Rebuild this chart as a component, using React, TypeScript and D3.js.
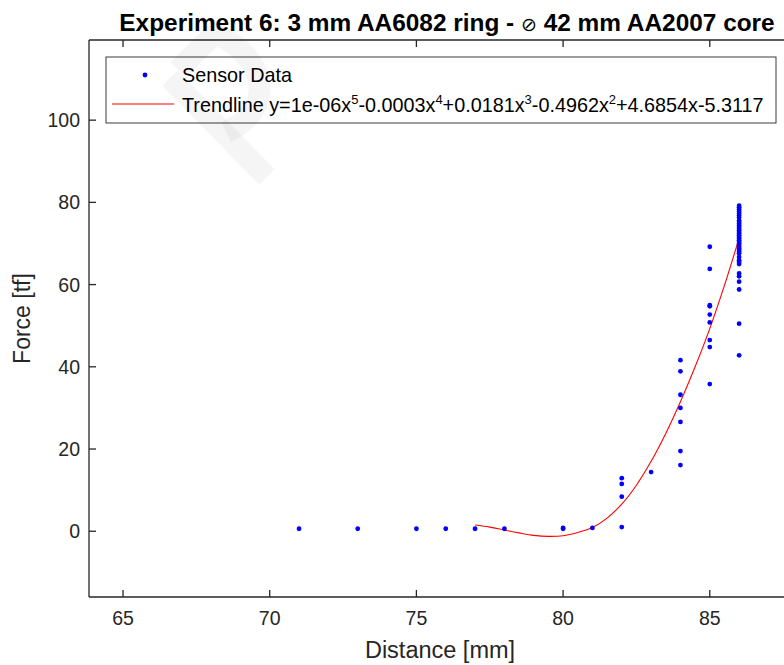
import React from "react";
import * as d3 from "d3";

// ---------- data ----------
const lowDistance = [71, 73, 75, 76, 77, 78, 80, 80, 81, 82];
const lowForce = [0.6, 0.6, 0.6, 0.6, 0.6, 0.6, 0.6, 0.8, 0.8, 1.0];
const force82 = [8.4, 11.5, 12.9];
const force83 = [14.4];
const force84 = [16.1, 19.5, 26.6, 30.0, 33.2, 38.9, 41.6];
const force85 = [35.8, 44.8, 46.5, 50.8, 52.7, 54.7, 55.0, 63.8, 69.2];
const force86 = [
  42.8, 50.5, 58.8, 60.7, 62.0, 62.7, 65.0, 65.5, 65.9, 66.7, 67.6, 68.0, 68.4,
  68.8, 69.2, 69.6, 70.0, 70.4, 70.8, 71.2, 71.6, 72.0, 72.4, 72.8, 73.2, 73.6,
  74.0, 74.4, 74.8, 75.2, 75.6, 76.3, 76.8, 77.3, 77.8, 78.3, 78.8, 79.2,
];

const trendDistance = [77, 77.5, 78, 78.5, 79, 79.5, 80, 80.5, 81, 81.5, 82, 82.5, 83, 83.5, 84, 84.5, 85, 85.5, 86];
const trendForce = [1.5, 1.0, 0.3, -0.4, -1.0, -1.25, -1.1, -0.3, 0.9, 3.2, 6.6, 11.2, 17.0, 23.8, 31.5, 40.0, 49.3, 59.8, 71.3];

const xTicks = [65, 70, 75, 80, 85];
const yTicks = [0, 20, 40, 60, 80, 100];

const titleText = "Experiment 6: 3 mm AA6082 ring - ";
const titleText2 = " 42 mm AA2007 core";
const xLabel = "Distance [mm]";
const yLabel = "Force [tf]";

export default function App() {
  const W = 784;
  const H = 665;
  const left = 89, right = 806, top = 40, bottom = 597;
  const x = d3.scaleLinear().domain([63.84, 88.28]).range([left, right]);
  const y = d3.scaleLinear().domain([-16, 119.5]).range([bottom, top]);

  const points: [number, number][] = [];
  lowDistance.forEach((d, i) => points.push([d, lowForce[i]]));
  force82.forEach((f) => points.push([82, f]));
  force83.forEach((f) => points.push([83, f]));
  force84.forEach((f) => points.push([84, f]));
  force85.forEach((f) => points.push([85, f]));
  force86.forEach((f) => points.push([86, f]));

  const trend = d3
    .line<number>()
    .x((_, i) => x(trendDistance[i]))
    .y((v) => y(v))
    .curve(d3.curveCatmullRom.alpha(0.5))(trendForce) as string;

  const axisColor = "#262626";
  const font = "'Liberation Sans', Arial, Helvetica, sans-serif";
  const tick = 7;
  const sup = 13;

  return (
    <svg
      width={W}
      height={H}
      style={{ position: "absolute", left: 0, top: 0, background: "#fff" }}
      fontFamily={font}
    >
      <rect x={0} y={0} width={W} height={H} fill="#fff" />
      {/* title */}
      <text x={447} y={31} textAnchor="middle" fontSize={24.4} fontWeight="bold" fill="#000">
        {titleText}
        <tspan fontWeight="normal" fontFamily="'DejaVu Sans', sans-serif" fontSize={19}>⊘</tspan>
        {titleText2}
      </text>

      {/* trendline */}
      <path d={trend} fill="none" stroke="#ff0000" strokeWidth={1.1} />

      {/* data points */}
      {points.map((p, i) => (
        <circle key={i} cx={x(p[0])} cy={y(p[1])} r={2.4} fill="#0000ff" />
      ))}

      {/* axes box */}
      <line x1={left} x2={right} y1={bottom} y2={bottom} stroke={axisColor} strokeWidth={1.3} />
      <line x1={left} x2={right} y1={top} y2={top} stroke={axisColor} strokeWidth={1.3} />
      <line x1={left} x2={left} y1={top} y2={bottom} stroke={axisColor} strokeWidth={1.3} />
      <line x1={right} x2={right} y1={top} y2={bottom} stroke={axisColor} strokeWidth={1.3} />

      {xTicks.map((t) => (
        <g key={"x" + t}>
          <line x1={x(t)} x2={x(t)} y1={bottom} y2={bottom - tick} stroke={axisColor} strokeWidth={1.3} />
          <line x1={x(t)} x2={x(t)} y1={top} y2={top + tick} stroke={axisColor} strokeWidth={1.3} />
          <text x={x(t)} y={624.5} textAnchor="middle" fontSize={19.5} fill={axisColor}>
            {t}
          </text>
        </g>
      ))}
      {yTicks.map((t) => (
        <g key={"y" + t}>
          <line x1={left} x2={left + tick} y1={y(t)} y2={y(t)} stroke={axisColor} strokeWidth={1.3} />
          <line x1={right} x2={right - tick} y1={y(t)} y2={y(t)} stroke={axisColor} strokeWidth={1.3} />
          <text x={80} y={y(t) + 7} textAnchor="end" fontSize={19.5} fill={axisColor}>
            {t}
          </text>
        </g>
      ))}

      <text x={440} y={658} textAnchor="middle" fontSize={23.5} fill={axisColor}>
        {xLabel}
      </text>
      <text
        transform={`translate(30,${(top + bottom) / 2}) rotate(-90)`}
        textAnchor="middle"
        fontSize={23}
        fill={axisColor}
      >
        {yLabel}
      </text>

      {/* legend */}
      <rect x={106} y={57} width={670} height={66} fill="#fff" stroke={axisColor} strokeWidth={0.9} />
      <circle cx={145} cy={75} r={2.4} fill="#0000ff" />
      <text x={182} y={82} fontSize={19.8} fill="#000">Sensor Data</text>
      <line x1={112} x2={174} y1={104} y2={104} stroke="#ff0000" strokeWidth={1.1} />
      <text x={182} y={111.5} fontSize={19.8} fill="#000">
        Trendline y=1e-06x<tspan dy={-8} fontSize={sup}>5</tspan>
        <tspan dy={8}>-0.0003x</tspan>
        <tspan dy={-8} fontSize={sup}>4</tspan>
        <tspan dy={8}>+0.0181x</tspan>
        <tspan dy={-8} fontSize={sup}>3</tspan>
        <tspan dy={8}>-0.4962x</tspan>
        <tspan dy={-8} fontSize={sup}>2</tspan>
        <tspan dy={8}>+4.6854x-5.3117</tspan>
      </text>

      {/* faint watermark */}
      <g stroke="#000" strokeOpacity={0.04} strokeWidth={22} fill="none" strokeLinecap="butt">
        <path d="M170,78 L267,177" />
        <path d="M178,70 L215,33 C 270,60 275,110 226,132" />
      </g>
    </svg>
  );
}
